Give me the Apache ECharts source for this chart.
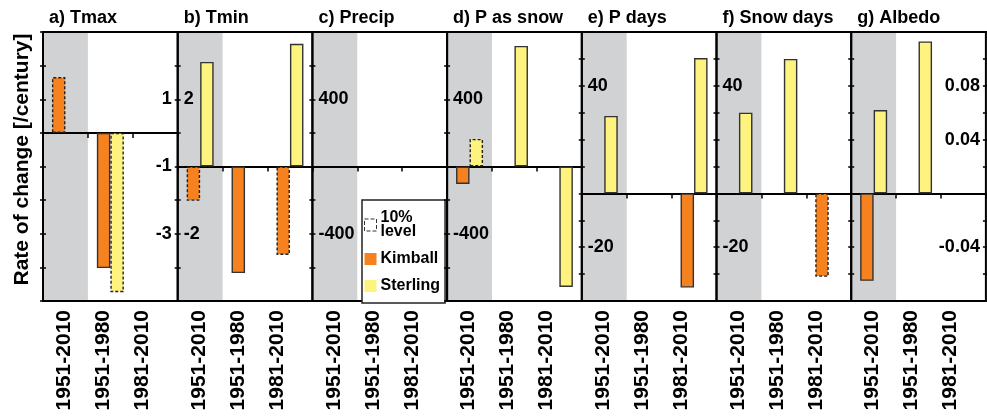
<!DOCTYPE html>
<html>
<head>
<meta charset="utf-8">
<script src="https://cdn.jsdelivr.net/npm/echarts@6/dist/echarts.min.js"></script>
<style>html,body{margin:0;padding:0;background:#fff;}#main{width:987px;height:418px;}</style>
</head>
<body>
<div id="main"></div>
<script>
// ---- data ----
const categories = ['1951-2010', '1951-1980', '1981-2010'];
const panelTitles = ['a) Tmax', 'b) Tmin', 'c) Precip', 'd) P as snow', 'e) P days', 'f) Snow days', 'g) Albedo'];
const kimball = [
  [1.66, -4.02, null],
  [-1.02, -3.17, -2.63],
  [null, null, null],
  [-104, null, null],
  [null, null, -35],
  [null, null, -31],
  [-0.065, null, null]
];
const sterling = [
  [null, -4.74, null],
  [3.11, null, 3.65],
  [null, null, null],
  [164, 717, -716],
  [28.8, null, 50.3],
  [30, 50, null],
  [0.062, 0.113, null]
];
// true = significant at 10% level (solid border), false = dashed border
const kimballSig = [
  [false, true, true],
  [false, true, false],
  [true, true, true],
  [true, true, true],
  [true, true, true],
  [true, true, false],
  [true, true, true]
];
const sterlingSig = [
  [true, false, true],
  [true, true, true],
  [true, true, true],
  [false, true, true],
  [true, true, true],
  [true, true, true],
  [true, true, true]
];
const yMin = [-5, -4, -800, -800, -40, -40, -0.08];
const yMax = [3, 4, 800, 800, 60, 60, 0.12];
const yStep = [1, 1, 200, 200, 10, 10, 0.02];
const tickLabels = [[1, -1, -3], [2, -2], [400, -400], [400, -400], [40, -20], [40, -20], [0.08, 0.04, -0.04]];
const yTitle = 'Rate of change [/century]';
const legendNames = ['10%\nlevel', 'Kimball', 'Sterling'];

// ---- style / layout ----
const FONT = 'Liberation Sans, Arial, Helvetica, sans-serif';
const ORANGE = '#F5821F';
const YELLOW = '#FFF37F';
const GREY = '#D1D2D4';
const PL = 43, PW = 134.7, PT = 32, PH = 269;
const N = panelTitles.length;
const labelRight = panelTitles.map((t, i) => i === 0 || i === N - 1);

function fmtFor(i) {
  return function (v) {
    for (const l of tickLabels[i]) {
      if (Math.abs(v - l) < yStep[i] * 1e-6) return String(l);
    }
    return '';
  };
}

const grid = [], xAxis = [], yAxis = [], series = [], title = [];

for (let i = 0; i < N; i++) {
  grid.push({left: PL + i * PW, top: PT, width: PW, height: PH, show: true,
    borderColor: '#000', borderWidth: 2, backgroundColor: 'transparent', z: 3});
  title.push({text: panelTitles[i], left: PL + i * PW + 6, top: 9, padding: 0,
    textStyle: {fontSize: 18, fontWeight: 'bold', color: '#000', fontFamily: FONT}});
}
// label grids
for (let i = 0; i < N; i++) {
  grid.push({left: PL + i * PW + 2, top: PT, width: 117, height: PH, show: false});
}

// main x axes
for (let i = 0; i < N; i++) {
  xAxis.push({type: 'category', gridIndex: i, data: categories, position: 'bottom',
    axisLine: {show: true, onZero: true, lineStyle: {color: '#000', width: 2}},
    axisTick: {show: true, length: 5, interval: 0, lineStyle: {color: '#000', width: 1.5}},
    axisLabel: {show: false},
    splitLine: {show: false},
    splitArea: {show: true, interval: 0, areaStyle: {color: [GREY, 'rgba(255,255,255,0)', 'rgba(255,255,255,0)']}},
    z: 1
  });
}
// label x axes
for (let i = 0; i < N; i++) {
  xAxis.push({type: 'category', gridIndex: N + i, data: categories, position: 'bottom',
    axisLine: {show: false}, axisTick: {show: false},
    axisLabel: {show: true, rotate: 90, margin: 9, interval: 0,
      fontSize: 21, fontWeight: 'bold', color: '#000', fontFamily: FONT}
  });
}

function tickStyle() {
  return {show: true, inside: false, length: 6, lineStyle: {color: '#000', width: 1.5}};
}
function hiddenLine() {
  return {show: true, lineStyle: {color: 'rgba(0,0,0,0)', width: 0}};
}
// left y axes
for (let i = 0; i < N; i++) {
  const ax = {type: 'value', gridIndex: i, min: yMin[i], max: yMax[i], interval: yStep[i],
    position: 'left', offset: -3,
    axisLine: hiddenLine(), axisTick: tickStyle(), splitLine: {show: false},
    axisLabel: {show: !labelRight[i], inside: true, margin: 3, formatter: fmtFor(i),
      fontSize: 18, fontWeight: 'bold', color: '#000', fontFamily: FONT},
    z: 5
  };
  if (i === 0) {
    ax.name = yTitle;
    ax.nameLocation = 'middle';
    ax.nameGap = 13;
    ax.nameTextStyle = {fontSize: 21, fontWeight: 'bold', color: '#000', fontFamily: FONT, padding: [0, 0, 0, 14]};
  }
  yAxis.push(ax);
}
// right y axes (for panels with right labels)
for (let i = 0; i < N; i++) {
  if (!labelRight[i]) continue;
  yAxis.push({type: 'value', gridIndex: i, min: yMin[i], max: yMax[i], interval: yStep[i],
    position: 'right', offset: -3,
    axisLine: hiddenLine(), axisTick: tickStyle(), splitLine: {show: false},
    axisLabel: {show: true, inside: true, margin: 3, formatter: fmtFor(i),
      fontSize: 18, fontWeight: 'bold', color: '#000', fontFamily: FONT},
    z: 5
  });
}
// hidden y axes for label grids
const labelY0 = yAxis.length;
for (let i = 0; i < N; i++) {
  yAxis.push({type: 'value', gridIndex: N + i, show: false, min: 0, max: 1});
}

function items(vals, sig, color) {
  return vals.map((v, k) => ({
    value: v,
    itemStyle: sig[k]
      ? {color: color, borderColor: '#333', borderWidth: 1.4, borderType: 'solid'}
      : {color: color, borderColor: '#222', borderWidth: 1.4, borderType: [3, 2]}
  }));
}

for (let i = 0; i < N; i++) {
  series.push({name: 'Kimball', type: 'bar', xAxisIndex: i, yAxisIndex: i,
    barWidth: 13.5, barGap: '0%', itemStyle: {color: ORANGE},
    data: items(kimball[i], kimballSig[i], ORANGE), silent: true, z: 2});
  series.push({name: 'Sterling', type: 'bar', xAxisIndex: i, yAxisIndex: i,
    barWidth: 13.5, barGap: '0%', itemStyle: {color: YELLOW},
    data: items(sterling[i], sterlingSig[i], YELLOW), silent: true, z: 2});
}
// dummy series for the significance legend entry
series.push({name: legendNames[0], type: 'bar', xAxisIndex: N, yAxisIndex: labelY0, data: [],
  itemStyle: {color: '#fff', borderColor: '#333', borderWidth: 1, borderType: 'dashed'}});

const option = {
  animation: false,
  backgroundColor: '#fff',
  textStyle: {fontFamily: FONT},
  title: title,
  grid: grid,
  xAxis: xAxis,
  yAxis: yAxis,
  legend: {
    left: 362, top: 200, orient: 'vertical', selectedMode: false,
    padding: [10, 5, 9, 2], itemGap: 11, itemWidth: 12, itemHeight: 12,
    backgroundColor: '#fff', borderColor: '#222', borderWidth: 1.5, borderRadius: 0,
    icon: 'rect',
    textStyle: {fontSize: 16, fontWeight: 'bold', color: '#000', lineHeight: 14, fontFamily: FONT, padding: [0, 0, 0, -1]},
    data: [
      {name: legendNames[0], itemStyle: {color: '#fff', borderColor: '#333', borderWidth: 1, borderType: 'dashed'}},
      {name: legendNames[1], itemStyle: {color: ORANGE, borderWidth: 0}},
      {name: legendNames[2], itemStyle: {color: YELLOW, borderWidth: 0}}
    ]
  },
  series: series
};

const chart = echarts.init(document.getElementById('main'), null, {renderer: 'canvas'});
chart.setOption(option);
</script>
</body>
</html>
